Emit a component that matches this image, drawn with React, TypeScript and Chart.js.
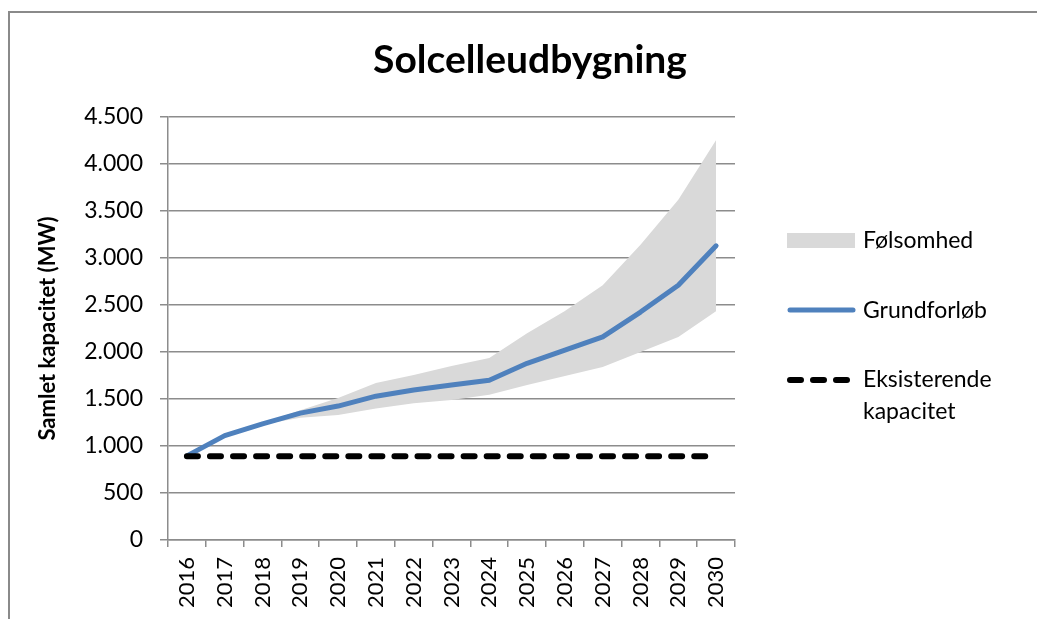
import React, { useEffect, useRef } from 'react';
import { Chart, registerables } from 'chart.js';

Chart.register(...registerables);

const years = ['2016', '2017', '2018', '2019', '2020', '2021', '2022', '2023', '2024', '2025', '2026', '2027', '2028', '2029', '2030'];
const grundforloeb = [895, 1110, 1235, 1350, 1425, 1530, 1595, 1650, 1700, 1880, 2020, 2160, 2425, 2710, 3130];
const foelsomhedOevre = [895, 1110, 1245, 1380, 1510, 1670, 1755, 1850, 1935, 2200, 2435, 2710, 3140, 3620, 4255];
const foelsomhedNedre = [895, 1110, 1230, 1300, 1330, 1400, 1455, 1490, 1545, 1650, 1745, 1840, 2000, 2160, 2435];
const eksisterende = [890, 890, 890, 890, 890, 890, 890, 890, 890, 890, 890, 890, 890, 890, 890];
const yTickValues = [0, 500, 1000, 1500, 2000, 2500, 3000, 3500, 4000, 4500];
const yTickLabels = ['0', '500', '1.000', '1.500', '2.000', '2.500', '3.000', '3.500', '4.000', '4.500'];

const FONT = 'Lato, "Open Sans", sans-serif';
const GRID = '#8c8c8c';

export default function App() {
  const ref = useRef<HTMLCanvasElement>(null);

  useEffect(() => {
    const chart = new Chart(ref.current as HTMLCanvasElement, {
      type: 'line',
      data: {
        labels: years,
        datasets: [
          {
            label: 'Følsomhed',
            data: foelsomhedOevre,
            fill: '+1',
            backgroundColor: '#d9d9d9',
            borderColor: 'rgba(0,0,0,0)',
            borderWidth: 0,
            pointRadius: 0,
            order: 3,
          },
          {
            label: 'Følsomhed nedre',
            data: foelsomhedNedre,
            fill: false,
            borderColor: 'rgba(0,0,0,0)',
            borderWidth: 0,
            pointRadius: 0,
            order: 4,
          },
          {
            label: 'Grundforløb',
            data: grundforloeb,
            fill: false,
            borderColor: '#4f81bd',
            borderWidth: 5,
            borderCapStyle: 'round',
            borderJoinStyle: 'round',
            pointRadius: 0,
            order: 2,
          },
          {
            label: 'Eksisterende kapacitet',
            data: eksisterende,
            fill: false,
            borderColor: '#000000',
            borderWidth: 6,
            borderDash: [11, 12.06],
            borderCapStyle: 'round',
            pointRadius: 0,
            order: 1,
          },
        ],
      },
      options: {
        animation: false,
        responsive: false,
        maintainAspectRatio: false,
        layout: { padding: { top: 117, right: 302, bottom: 0, left: 0 } },
        plugins: {
          legend: { display: false },
          title: { display: false },
          tooltip: { enabled: false },
        },
        scales: {
          x: {
            offset: true,
            grid: {
              offset: true,
              drawOnChartArea: false,
              drawTicks: true,
              tickLength: 7,
              color: GRID,
              lineWidth: 1.5,
            },
            border: { color: GRID, width: 1.5 },
            ticks: {
              minRotation: 90,
              maxRotation: 90,
              autoSkip: false,
              padding: 10,
              color: '#000',
              font: { family: FONT, size: 22 },
            },
            afterFit: (s: any) => {
              s.height = 79;
            },
          },
          y: {
            min: 0,
            max: 4500,
            afterBuildTicks: (s: any) => {
              s.ticks = yTickValues.map((v) => ({ value: v }));
            },
            ticks: {
              padding: 17,
              color: '#000',
              font: { family: FONT, size: 23 },
              callback: (v: any) => {
                const i = yTickValues.indexOf(Number(v));
                return i >= 0 ? yTickLabels[i] : '';
              },
            },
            grid: { color: GRID, lineWidth: 1.5, tickLength: 8 },
            border: { color: GRID, width: 1.5 },
            title: {
              display: true,
              text: 'Samlet kapacitet (MW)',
              color: '#000',
              font: { family: FONT, size: 22, weight: 'bold' },
              padding: { top: 35, bottom: 0 },
            },
            afterFit: (s: any) => {
              s.width = 168;
            },
          },
        },
      },
    } as any);
    return () => chart.destroy();
  }, []);

  const textStyle: React.CSSProperties = {
    position: 'absolute',
    left: 863,
    fontFamily: FONT,
    fontSize: 23,
    lineHeight: '32px',
    color: '#000',
    whiteSpace: 'nowrap',
  };

  return (
    <div style={{ position: 'absolute', left: 0, top: 0, width: 1037, height: 619, background: '#fff', overflow: 'hidden' }}>
      <div
        style={{
          position: 'absolute',
          left: 8,
          top: 11,
          right: -10,
          bottom: -10,
          borderTop: '2px solid #8a8a8a',
          borderLeft: '2px solid #8a8a8a',
        }}
      />
      <canvas ref={ref} width={1037} height={619} style={{ position: 'absolute', left: 0, top: 0, width: 1037, height: 619 }} />
      <div
        style={{
          position: 'absolute',
          left: 0,
          width: 1060,
          top: 35,
          textAlign: 'center',
          fontFamily: FONT,
          fontWeight: 'bold',
          fontSize: 39,
          lineHeight: '46px',
          color: '#000',
        }}
      >
        Solcelleudbygning
      </div>
      <div style={{ position: 'absolute', left: 787, top: 233, width: 68, height: 15, background: '#d9d9d9' }} />
      <div style={{ ...textStyle, top: 223 }}>Følsomhed</div>
      <svg style={{ position: 'absolute', left: 780, top: 300, overflow: 'visible' }} width={90} height={20}>
        <line x1={10} y1={10} x2={73} y2={10} stroke="#4f81bd" strokeWidth={5} strokeLinecap="round" />
      </svg>
      <div style={{ ...textStyle, top: 293 }}>Grundforløb</div>
      <svg style={{ position: 'absolute', left: 780, top: 370, overflow: 'visible' }} width={90} height={20}>
        <line x1={10} y1={10} x2={68} y2={10} stroke="#000" strokeWidth={6} strokeLinecap="round" strokeDasharray="11 12" />
      </svg>
      <div style={{ ...textStyle, top: 362 }}>
        Eksisterende
        <br />
        kapacitet
      </div>
    </div>
  );
}
